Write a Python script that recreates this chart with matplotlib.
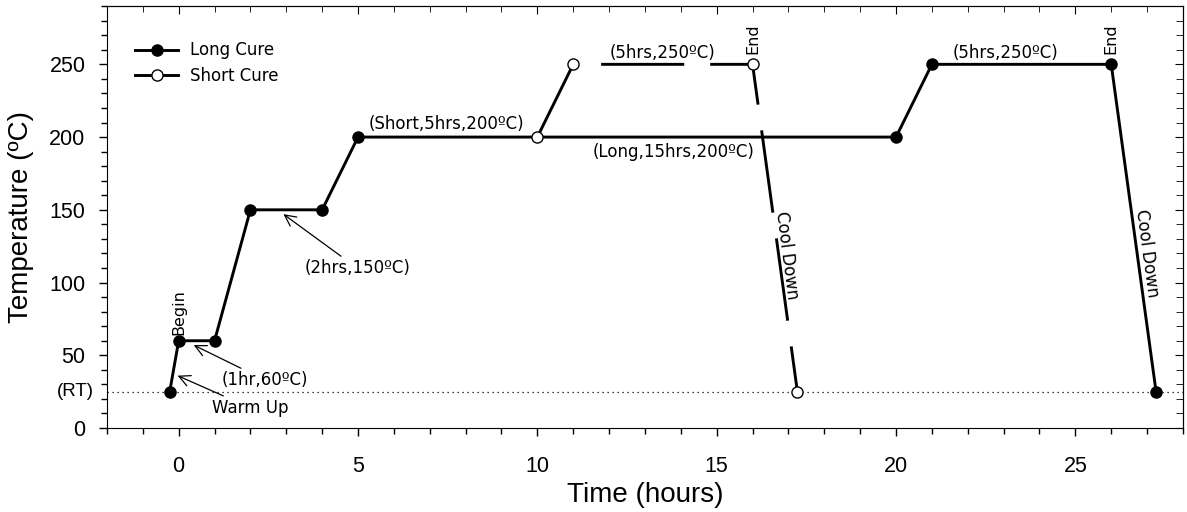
import matplotlib
matplotlib.use('Agg')
import matplotlib.pyplot as plt
from matplotlib.ticker import MultipleLocator

# cure profiles (time in hours, temperature in degC)
long_t = [-0.25, 0, 1, 2, 4, 5, 20, 21, 26, 27.25]
long_T = [25, 60, 60, 150, 150, 200, 200, 250, 250, 25]
short_t = [10, 11, 16, 17.25]
short_T = [200, 250, 250, 25]
room_temp = 25

ann_font = 'DejaVu Sans'
tick_font = 'Liberation Sans'

fig = plt.figure(figsize = (11.87, 5.12), dpi = 100)
ax = fig.add_axes([0.0901, 0.164, 0.9065, 0.824])

lw = 2.1
ax.axhline(room_temp, color = 'black', lw = 0.9, ls = (0, (1, 3)), zorder = 1)
ax.plot(long_t, long_T, color = 'black', lw = lw, marker = 'o', ms = 8,
        mfc = 'black', mec = 'black', label = 'Long Cure', zorder = 3)
ax.plot(short_t, short_T, color = 'black', lw = lw, ls = (0, (59.8 / lw, 18.7 / lw)),
        marker = 'o', ms = 8, mfc = 'white', mec = 'black', mew = 1.0,
        label = 'Short Cure', zorder = 4)

ax.set_xlim(-2, 28)
ax.set_ylim(0, 290)
ax.xaxis.set_major_locator(MultipleLocator(5))
ax.xaxis.set_minor_locator(MultipleLocator(1))
ax.yaxis.set_major_locator(MultipleLocator(50))
ax.yaxis.set_minor_locator(MultipleLocator(10))
ax.tick_params(which = 'major', direction = 'out', length = 6, width = 1, labelsize = 15.5, pad = 14)
ax.tick_params(which = 'minor', direction = 'out', length = 4, width = 1)
ax.tick_params(axis = 'y', pad = 9.5)
for lab in ax.get_xticklabels() + ax.get_yticklabels():
    lab.set_fontfamily(tick_font)

top = ax.secondary_xaxis('top')
top.xaxis.set_major_locator(MultipleLocator(5))
top.xaxis.set_minor_locator(MultipleLocator(1))
top.tick_params(which = 'both', direction = 'in', length = 6, labeltop = False)
top.tick_params(which = 'minor', length = 4)
right = ax.secondary_yaxis('right')
right.yaxis.set_major_locator(MultipleLocator(50))
right.yaxis.set_minor_locator(MultipleLocator(10))
right.tick_params(which = 'both', direction = 'in', length = 6, labelright = False)
right.tick_params(which = 'minor', length = 5)

ax.set_xlabel('Time (hours)', fontsize = 20, fontfamily = tick_font, labelpad = 4)
ax.set_ylabel('Temperature (ºC)', fontsize = 20, fontfamily = tick_font, labelpad = 11)
ax.text(-0.012, room_temp, '(RT)', transform = ax.get_yaxis_transform(), ha = 'right',
        va = 'center', fontsize = 13.5, fontfamily = tick_font)

leg = ax.legend(loc = 'upper left', bbox_to_anchor = (0.012, 0.952), frameon = False,
                handlelength = 2.6, handletextpad = 0.7, labelspacing = 0.45,
                prop = {'family': ann_font, 'size': 12})
leg.get_lines()[1].set_linestyle('-')

arrow = dict(arrowstyle = '->', color = 'black', lw = 0.9, shrinkA = 0, shrinkB = 0,
             mutation_scale = 20)
kw = dict(fontsize = 12, fontfamily = ann_font)
ax.annotate('(1hr,60ºC)', xy = (0.42, 57), xytext = (1.2, 33), va = 'center',
            ha = 'left', arrowprops = arrow, **kw)
ax.annotate('Warm Up', xy = (-0.03, 36), xytext = (0.92, 14), va = 'center',
            ha = 'left', arrowprops = arrow, **kw)
ax.annotate('(2hrs,150ºC)', xy = (2.92, 147), xytext = (3.5, 110), va = 'center',
            ha = 'left', arrowprops = arrow, **kw)
ax.text(5.3, 203, '(Short,5hrs,200ºC)', ha = 'left', va = 'bottom', **kw)
ax.text(13.8, 190, '(Long,15hrs,200ºC)', ha = 'center', va = 'center', **kw)
ax.text(13.5, 258, '(5hrs,250ºC)', ha = 'center', va = 'center', **kw)
ax.text(23.05, 258, '(5hrs,250ºC)', ha = 'center', va = 'center', **kw)
ax.text(0, 64, 'Begin', rotation = 90, ha = 'center', va = 'bottom', fontsize = 11.5, fontfamily = ann_font)
ax.text(16, 257, 'End', rotation = 90, ha = 'center', va = 'bottom', fontsize = 11.5, fontfamily = ann_font)
ax.text(26, 257, 'End', rotation = 90, ha = 'center', va = 'bottom', fontsize = 11.5, fontfamily = ann_font)
ax.text(16.95, 119, 'Cool Down', rotation = -82.5, rotation_mode = 'anchor',
        ha = 'center', va = 'center', **kw)
ax.text(27.0, 120, 'Cool Down', rotation = -82.3, rotation_mode = 'anchor',
        ha = 'center', va = 'center', **kw)

fig.savefig('out.png', dpi = 100)
